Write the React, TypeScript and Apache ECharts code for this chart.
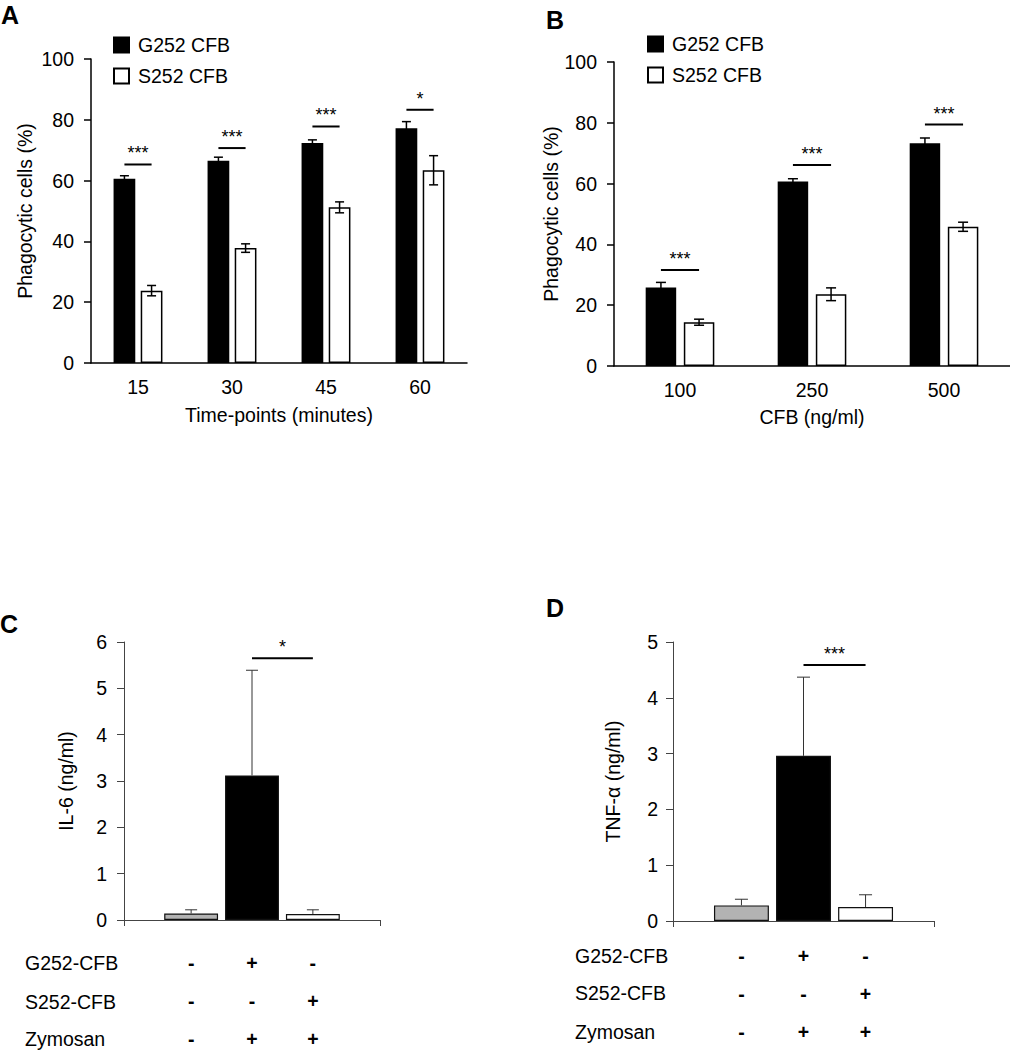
import React, { useEffect, useRef } from "react";
import * as echarts from "echarts";

// ---------- Panel A: time course ----------
const timeCats = ["15", "30", "45", "60"];
const aG252 = [60.6, 66.5, 72.4, 77.2];
const aG252Err = [1.0, 1.2, 1.0, 2.2];
const aS252 = [23.8, 37.8, 51.2, 63.4];
const aS252Err = [1.7, 1.4, 1.8, 4.8];
const aSigY = [65.3, 70.7, 77.8, 83.3];
const aSigLabel = ["***", "***", "***", "*"];

// ---------- Panel B: dose ----------
const doseCats = ["100", "250", "500"];
const bG252 = [25.8, 60.7, 73.3];
const bG252Err = [1.7, 0.9, 1.7];
const bS252 = [14.4, 23.6, 45.8];
const bS252Err = [1.0, 2.1, 1.5];
const bSigY = [31.6, 66.1, 79.4];
const bSigLabel = ["***", "***", "***"];

// ---------- Panels C, D: cytokines ----------
const groupNames = ["Control", "G252-CFB + Zymosan", "S252-CFB + Zymosan"];
const groupColors = ["#b3b3b3", "#000000", "#ffffff"];
const il6 = [0.14, 3.12, 0.13];
const il6Err = [0.08, 2.27, 0.09];
const il6SigY = 5.65;
const il6SigLabel = "*";
const tnf = [0.28, 2.96, 0.25];
const tnfErr = [0.11, 1.41, 0.22];
const tnfSigY = 4.59;
const tnfSigLabel = "***";

const tableRows = ["G252-CFB", "S252-CFB", "Zymosan"];
const tableSigns = [
  ["-", "+", "-"],
  ["-", "-", "+"],
  ["-", "+", "+"],
];

const FONT = "Liberation Sans, Arial, Helvetica, sans-serif";
const FS = 19.5;

function barX(center: number, band: number, n: number, k: number, catGap: number, gap: number) {
  const avail = band * (1 - catGap);
  const w = avail / (n + (n - 1) * gap);
  return center - avail / 2 + k * w * (1 + gap) + w / 2;
}

function errSeries(axis: number, rows: number[][], n: number, catGap: number, gap: number, twoSided: boolean, cap: number, lw: number, color: string) {
  return {
    type: "custom",
    xAxisIndex: axis,
    yAxisIndex: axis,
    z: 5,
    silent: true,
    encode: { x: 0, y: 1 },
    data: rows,
    renderItem: (params: any, api: any) => {
      const cat = api.value(0);
      const mean = api.value(1);
      const err = api.value(2);
      const k = api.value(3);
      const c = api.coord([cat, mean]);
      const band = api.size([1, 0])[0];
      const x = barX(c[0], band, n, k, catGap, gap);
      const top = api.coord([cat, mean + err])[1];
      const bot = twoSided ? api.coord([cat, mean - err])[1] : c[1];
      const st = { stroke: color, lineWidth: lw, fill: "none" };
      const children: any[] = [
        { type: "line", shape: { x1: x, y1: top, x2: x, y2: bot }, style: st },
        { type: "line", shape: { x1: x - cap / 2, y1: top, x2: x + cap / 2, y2: top }, style: st },
      ];
      if (twoSided) {
        children.push({ type: "line", shape: { x1: x - cap / 2, y1: bot, x2: x + cap / 2, y2: bot }, style: st });
      }
      return { type: "group", children };
    },
  };
}

function sigSeries(axis: number, rows: number[][], labels: string[], n: number, catGap: number, gap: number, k0: number, k1: number) {
  return {
    type: "custom",
    xAxisIndex: axis,
    yAxisIndex: axis,
    z: 5,
    silent: true,
    encode: { x: 0, y: 1 },
    data: rows,
    renderItem: (params: any, api: any) => {
      const cat = api.value(0);
      const y = api.value(1);
      const c = api.coord([cat, y]);
      const band = api.size([1, 0])[0];
      const x0 = barX(c[0], band, n, k0, catGap, gap);
      const x1 = barX(c[0], band, n, k1, catGap, gap);
      return {
        type: "group",
        children: [
          { type: "line", shape: { x1: x0, y1: c[1], x2: x1, y2: c[1] }, style: { stroke: "#000", lineWidth: 2 } },
          {
            type: "text",
            style: {
              text: labels[params.dataIndex],
              x: (x0 + x1) / 2,
              y: c[1] - 2,
              align: "center",
              verticalAlign: "bottom",
              fontSize: 18,
              fontFamily: FONT,
              fill: "#000",
            },
          },
        ],
      };
    },
  };
}

function tableSeries(axis: number, offsets: number[], catGap: number, gap: number) {
  const rows: number[][] = [];
  tableSigns.forEach((r, ri) => r.forEach((_, k) => rows.push([0, 0, ri, k])));
  return {
    type: "custom",
    xAxisIndex: axis,
    yAxisIndex: axis,
    z: 5,
    silent: true,
    clip: false,
    encode: { x: 0, y: 1 },
    data: rows,
    renderItem: (params: any, api: any) => {
      const ri = api.value(2);
      const k = api.value(3);
      const c = api.coord([0, 0]);
      const band = api.size([1, 0])[0];
      const x = barX(c[0], band, 3, k, catGap, gap);
      return {
        type: "text",
        style: {
          text: tableSigns[ri][k],
          x,
          y: c[1] + offsets[ri],
          align: "center",
          verticalAlign: "middle",
          fontSize: FS,
          fontWeight: "bold",
          fontFamily: FONT,
          fill: "#000",
        },
      };
    },
  };
}

const axisText = { fontSize: FS, color: "#000", fontFamily: FONT };

function catAxis(grid: number, data: string[], name: string, nameGap: number, lw: number, showTick: boolean, color: string) {
  return {
    type: "category",
    gridIndex: grid,
    data,
    axisLine: { lineStyle: { color, width: lw } },
    axisTick: { show: showTick, length: 6, alignWithLabel: false, lineStyle: { color, width: lw } },
    axisLabel: { show: data.some((d) => d !== ""), ...axisText, margin: 14 },
    name,
    nameLocation: "middle",
    nameGap,
    nameTextStyle: axisText,
    splitLine: { show: false },
  };
}

function valAxis(grid: number, max: number, interval: number, name: string, nameGap: number, lw: number, margin: number, color: string) {
  return {
    type: "value",
    gridIndex: grid,
    min: 0,
    max,
    interval,
    axisLine: { show: true, lineStyle: { color, width: lw } },
    axisTick: { show: true, length: 7, lineStyle: { color, width: lw } },
    axisLabel: { ...axisText, margin },
    splitLine: { show: false },
    name,
    nameLocation: "middle",
    nameGap,
    nameTextStyle: axisText,
  };
}

const AB_CAT_GAP = 0.48;
const AB_GAP = 0.25;
const CD_CAT_GAP = 0.314;
const CD_GAP = 0.13;

export default function App() {
  const ref = useRef<HTMLDivElement>(null);
  useEffect(() => {
    if (!ref.current) return;
    const chart = echarts.init(ref.current, undefined, { renderer: "svg" });

    const whiteStyle = { color: "#fff", borderColor: "#000", borderWidth: 1.5 };
    const blackStyle = { color: "#000", borderColor: "#000", borderWidth: 1.5 };

    const barAB = (axis: number, name: string, data: number[], style: any) => ({
      type: "bar",
      name,
      xAxisIndex: axis,
      yAxisIndex: axis,
      data,
      barCategoryGap: AB_CAT_GAP * 100 + "%",
      barGap: AB_GAP * 100 + "%",
      itemStyle: style,
      silent: true,
    });

    const barCD = (axis: number, values: number[]) =>
      values.map((v, k) => ({
        type: "bar",
        name: groupNames[k],
        xAxisIndex: axis,
        yAxisIndex: axis,
        data: [v],
        barCategoryGap: CD_CAT_GAP * 100 + "%",
        barGap: CD_GAP * 100 + "%",
        itemStyle: { color: groupColors[k], borderColor: "#111", borderWidth: 1.2 },
        silent: true,
      }));

    const aErrRows = [
      ...aG252.map((v, i) => [i, v, aG252Err[i], 0]),
      ...aS252.map((v, i) => [i, v, aS252Err[i], 1]),
    ];
    const bErrRows = [
      ...bG252.map((v, i) => [i, v, bG252Err[i], 0]),
      ...bS252.map((v, i) => [i, v, bS252Err[i], 1]),
    ];
    const cErrRows = il6.map((v, k) => [0, v, il6Err[k], k]);
    const dErrRows = tnf.map((v, k) => [0, v, tnfErr[k], k]);

    const legendBase = {
      data: ["G252 CFB", "S252 CFB"],
      orient: "vertical",
      icon: "rect",
      itemWidth: 15,
      itemHeight: 15,
      itemGap: 11,
      padding: 0,
      selectedMode: false,
      textStyle: { fontSize: FS, color: "#000", fontFamily: FONT, padding: [0, 0, 0, 4] },
    };

    const panelLetter = (t: string, x: number, y: number) => ({
      type: "text",
      left: x,
      top: y,
      style: { text: t, fontSize: 25, fontWeight: "bold", fontFamily: FONT, fill: "#000" },
    });
    const rowLabel = (t: string, x: number, y: number) => ({
      type: "text",
      x,
      y,
      style: { text: t, fontSize: FS, fontFamily: FONT, fill: "#000", align: "left", verticalAlign: "middle" },
    });

    chart.setOption({
      animation: false,
      backgroundColor: "#fff",
      textStyle: { fontFamily: FONT },
      grid: [
        { left: 91, top: 59, width: 376, height: 304, containLabel: false, outerBoundsMode: "none" },
        { left: 614, top: 62, width: 396, height: 304, containLabel: false, outerBoundsMode: "none" },
        { left: 124, top: 642, width: 256, height: 278, containLabel: false, outerBoundsMode: "none" },
        { left: 673, top: 642, width: 261, height: 279, containLabel: false, outerBoundsMode: "none" },
      ],
      xAxis: [
        catAxis(0, timeCats, "Time-points (minutes)", 42, 1.5, false, "#000"),
        catAxis(1, doseCats, "CFB (ng/ml)", 41, 1.5, false, "#000"),
        catAxis(2, [""], "", 0, 1, true, "#444"),
        catAxis(3, [""], "", 0, 1, true, "#444"),
      ],
      yAxis: [
        valAxis(0, 100, 20, "Phagocytic cells (%)", 56, 1.5, 17, "#000"),
        valAxis(1, 100, 20, "Phagocytic cells (%)", 45, 1.5, 17, "#000"),
        valAxis(2, 6, 1, "IL-6 (ng/ml)", 48, 1, 17, "#444"),
        valAxis(3, 5, 1, "TNF-α (ng/ml)", 50, 1, 15, "#444"),
      ],
      legend: [
        { ...legendBase, left: 113, top: 35 },
        { ...legendBase, left: 647, top: 34 },
      ],
      series: [
        barAB(0, "G252 CFB", aG252, blackStyle),
        barAB(0, "S252 CFB", aS252, whiteStyle),
        errSeries(0, aErrRows, 2, AB_CAT_GAP, AB_GAP, true, 9, 1.5, "#000"),
        sigSeries(0, aSigY.map((y, i) => [i, y]), aSigLabel, 2, AB_CAT_GAP, AB_GAP, 0, 1),
        barAB(1, "G252 CFB", bG252, blackStyle),
        barAB(1, "S252 CFB", bS252, whiteStyle),
        errSeries(1, bErrRows, 2, AB_CAT_GAP, AB_GAP, true, 10, 1.5, "#000"),
        sigSeries(1, bSigY.map((y, i) => [i, y]), bSigLabel, 2, AB_CAT_GAP, AB_GAP, 0, 1),
        ...barCD(2, il6),
        errSeries(2, cErrRows, 3, CD_CAT_GAP, CD_GAP, false, 12, 1, "#333"),
        sigSeries(2, [[0, il6SigY]], [il6SigLabel], 3, CD_CAT_GAP, CD_GAP, 1, 2),
        tableSeries(2, [43, 81.4, 119], CD_CAT_GAP, CD_GAP),
        ...barCD(3, tnf),
        errSeries(3, dErrRows, 3, CD_CAT_GAP, CD_GAP, false, 13, 1, "#333"),
        sigSeries(3, [[0, tnfSigY]], [tnfSigLabel], 3, CD_CAT_GAP, CD_GAP, 1, 2),
        tableSeries(3, [35, 72.6, 111], CD_CAT_GAP, CD_GAP),
      ],
      graphic: [
        panelLetter("A", 1, 2),
        panelLetter("B", 546, 7),
        panelLetter("C", 0, 611),
        panelLetter("D", 546, 595),
        ...tableRows.map((t, i) => rowLabel(t, 25, [963.3, 1001.7, 1039.3][i])),
        ...tableRows.map((t, i) => rowLabel(t, 575, [955.7, 993.3, 1031.7][i])),
      ],
    });
    return () => chart.dispose();
  }, []);
  return (
    <div
      ref={ref}
      style={{ position: "absolute", left: 0, top: 0, width: 1010, height: 1050, background: "#fff" }}
    />
  );
}
